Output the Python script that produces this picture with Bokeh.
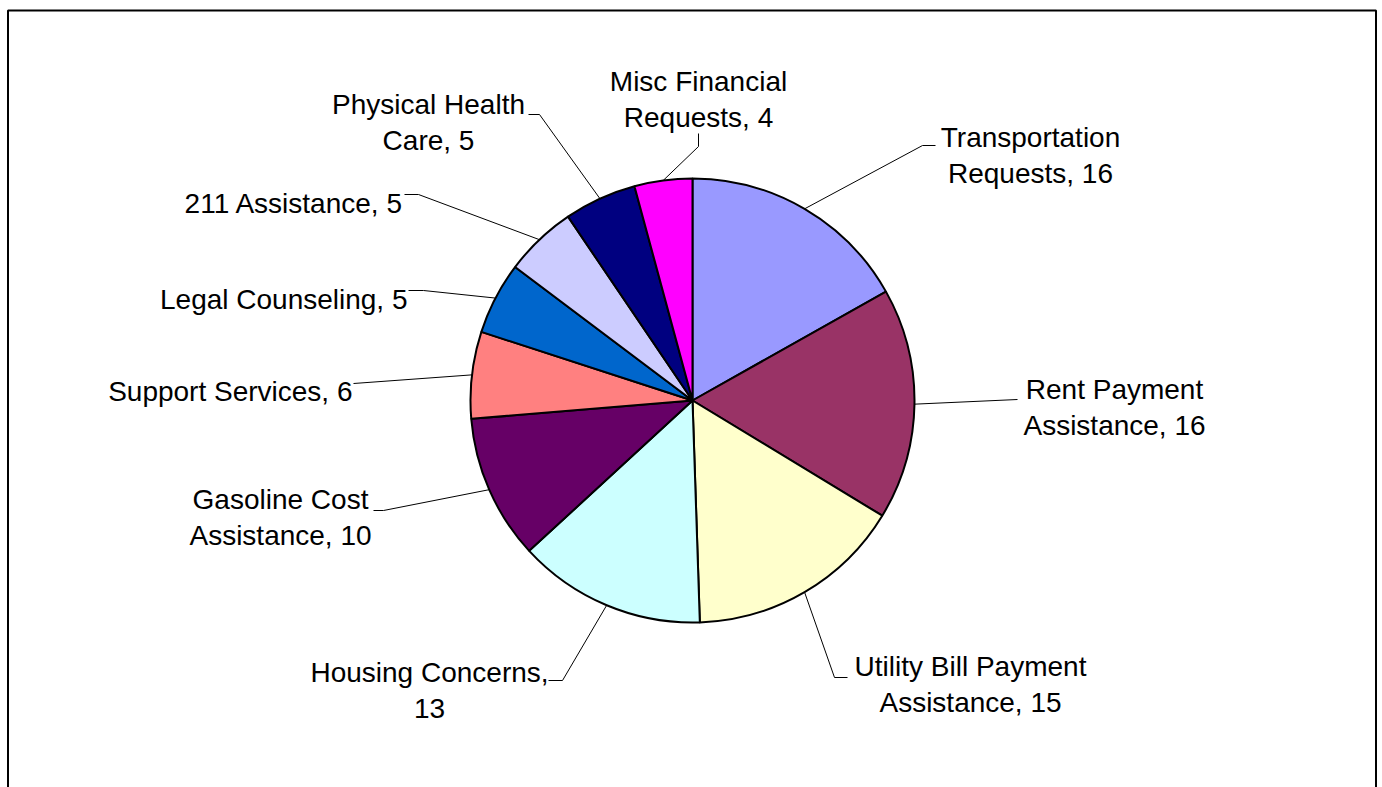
import numpy as np
from bokeh.plotting import figure
from bokeh.models import ColumnDataSource, Range1d
from bokeh.core.properties import value
from bokeh.embed import file_html
from bokeh.resources import INLINE

# ---- data ----
categories = ["Transportation Requests", "Rent Payment Assistance",
              "Utility Bill Payment Assistance", "Housing Concerns",
              "Gasoline Cost Assistance", "Support Services", "Legal Counseling",
              "211 Assistance", "Physical Health Care", "Misc Financial Requests"]
counts = [16, 16, 15, 13, 10, 6, 5, 5, 5, 4]
colors = ["#9999FF", "#993366", "#FFFFCC", "#CCFFFF", "#660066",
          "#FF8080", "#0066CC", "#CCCCFF", "#000080", "#FF00FF"]
first_line_words = [1, 2, 3, 2, 2, 0, 0, 0, 2, 2]

# ---- layout (image pixel coordinates) ----
W, H = 1382, 787
def X(ix): return ix
def Y(iy): return H - iy

CX, CY, R = 692, 400, 222
elbows = [(922, 145), (1017, 399), (834, 677), (562, 680), (383, 510),
          (353, 383), (423, 290), (418, 194), (539, 114), (698, 146)]
ends = [(935, 145), (1017, 399), (847, 677), (548, 680), (373, 510),
        (353, 383), (408, 290), (404, 194), (528, 114), (698, 133)]
text_x = [1030, 1114, 970, 429, 280, 352, 407, 403, 428, 698]
text_base = [137, 389, 666, 672, 499, 391, 299, 203, 104, 81]
LINE_GAP = 36
FONT = "Liberation Sans"
FSIZE = "28px"

p = figure(width=W, height=H, output_backend="svg", toolbar_location=None,
           x_range=Range1d(0, W), y_range=Range1d(0, H), min_border=0)
p.axis.visible = False
p.grid.visible = False
p.outline_line_color = None
p.background_fill_color = "white"
p.border_fill_color = "white"

# chart border (top, left, right)
p.multi_line(xs=[[X(7.5), X(7.5), X(1375.5), X(1375.5)]],
             ys=[[Y(800), Y(10), Y(10), Y(800)]],
             line_color="black", line_width=2)

# pie
vals = np.array(counts, dtype=float)
frac = vals / vals.sum()
cum_end = np.cumsum(frac) * 2 * np.pi
cum_start = cum_end - frac * 2 * np.pi
start_ang = np.pi / 2 - cum_start
end_ang = np.pi / 2 - cum_end
src = ColumnDataSource(dict(x=[X(CX)] * len(counts), y=[Y(CY)] * len(counts),
                            s=start_ang, e=end_ang, c=colors))
p.wedge(x="x", y="y", radius=R, start_angle="s", end_angle="e",
        direction="clock", fill_color="c", line_color="black", line_width=2,
        source=src)

# leader lines
mid = (cum_start + cum_end) / 2
xs, ys = [], []
for i in range(len(counts)):
    rx = X(CX) + R * np.sin(mid[i])
    ry = Y(CY) + R * np.cos(mid[i])
    xs.append([rx, X(elbows[i][0]), X(ends[i][0])])
    ys.append([ry, Y(elbows[i][1]), Y(ends[i][1])])
p.multi_line(xs=xs, ys=ys, line_color="black", line_width=1)

# labels
lx, ly, lt, la = [], [], [], []
for i, (name, v) in enumerate(zip(categories, counts)):
    words = f"{name}, {v}".split(" ")
    n = first_line_words[i]
    lines = [" ".join(words)] if n == 0 else [" ".join(words[:n]), " ".join(words[n:])]
    for k, line in enumerate(lines):
        lx.append(X(text_x[i]))
        ly.append(Y(text_base[i] + k * LINE_GAP))
        lt.append(line)
        la.append("right" if n == 0 else "center")
lsrc = ColumnDataSource(dict(x=lx, y=ly, t=lt, a=la))
p.text(x="x", y="y", text="t", text_align="a", text_baseline="alphabetic",
       text_font=value(FONT), text_font_size=FSIZE, text_color="black",
       source=lsrc)

open("out.html", "w").write(file_html(p, INLINE))
